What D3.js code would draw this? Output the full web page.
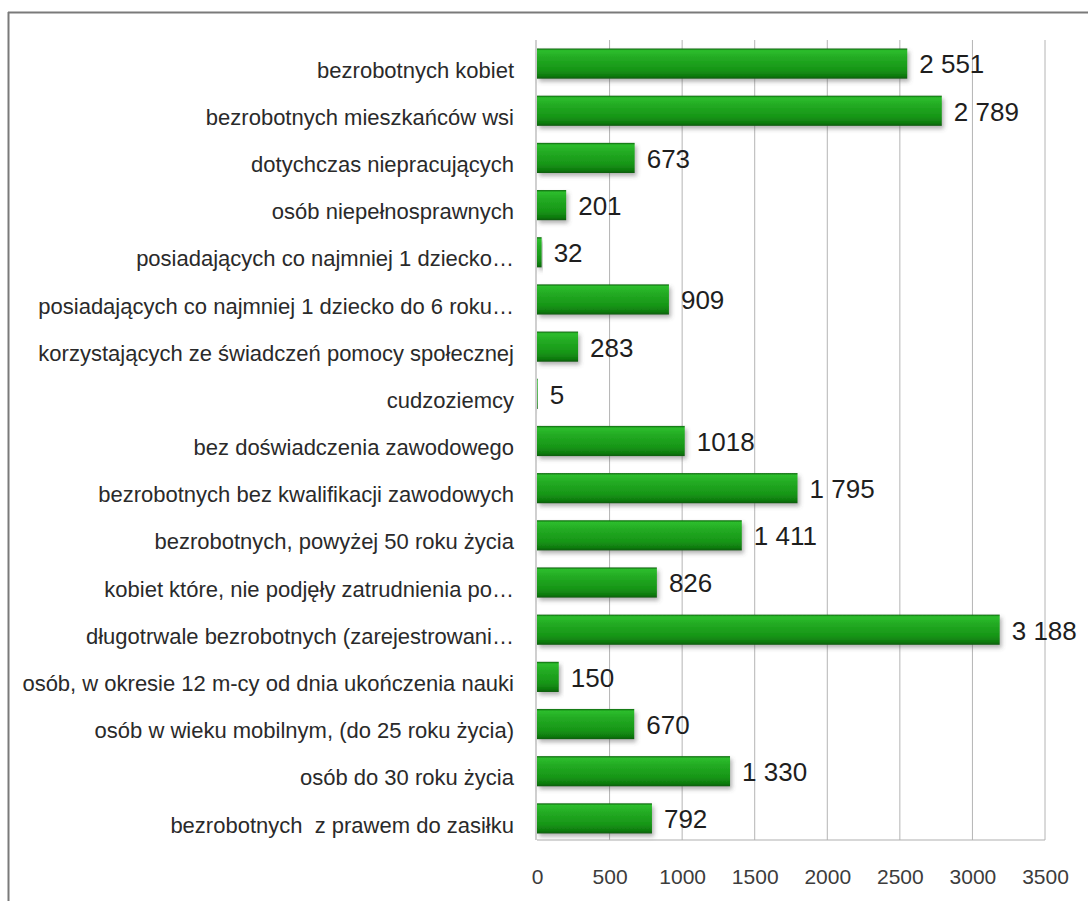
<!DOCTYPE html>
<html>
<head>
<meta charset="utf-8">
<script src="https://cdn.jsdelivr.net/npm/d3@7"></script>
<style>
  html, body { margin: 0; padding: 0; background: #fff; }
  svg { display: block; }
  text { font-family: "Liberation Sans", Arial, sans-serif; white-space: pre; }
</style>
</head>
<body>
<svg id="chart" width="1088" height="901"></svg>
<script>
const categories = [
  "bezrobotnych kobiet",
  "bezrobotnych mieszkańców wsi",
  "dotychczas niepracujących",
  "osób niepełnosprawnych",
  "posiadających co najmniej 1 dziecko…",
  "posiadających co najmniej 1 dziecko do 6 roku…",
  "korzystających ze świadczeń pomocy społecznej",
  "cudzoziemcy",
  "bez doświadczenia zawodowego",
  "bezrobotnych bez kwalifikacji zawodowych",
  "bezrobotnych, powyżej 50 roku życia",
  "kobiet które, nie podjęły zatrudnienia po…",
  "długotrwale bezrobotnych (zarejestrowani…",
  "osób, w okresie 12 m-cy od dnia ukończenia nauki",
  "osób w wieku mobilnym, (do 25 roku życia)",
  "osób do 30 roku życia",
  "bezrobotnych  z prawem do zasiłku"
];
const values = [2551, 2789, 673, 201, 32, 909, 283, 5, 1018, 1795, 1411, 826, 3188, 150, 670, 1330, 792];
const valueLabels = ["2 551", "2 789", "673", "201", "32", "909", "283", "5", "1018", "1 795", "1 411", "826", "3 188", "150", "670", "1 330", "792"];
const xTicks = [0, 500, 1000, 1500, 2000, 2500, 3000, 3500];

const svg = d3.select("#chart");
const W = 1088, H = 901;
const plot = { left: 537, right: 1045, top: 40, bottom: 840 };

// outer frame (top and left edges visible)
svg.append("line").attr("x1", 8).attr("x2", W).attr("y1", 12.5).attr("y2", 12.5)
  .attr("stroke", "#7a7a7a").attr("stroke-width", 2);
svg.append("line").attr("x1", 8.5).attr("x2", 8.5).attr("y1", 12).attr("y2", H)
  .attr("stroke", "#7a7a7a").attr("stroke-width", 2);

const x = d3.scaleLinear().domain([0, 3500]).range([plot.left, plot.right]);
const y = d3.scaleBand().domain(categories).range([plot.top, plot.bottom + 2])
  .paddingInner(0.36).paddingOuter(0.18);

const defs = svg.append("defs");
const grad = defs.append("linearGradient").attr("id", "barGrad")
  .attr("x1", 0).attr("y1", 0).attr("x2", 0).attr("y2", 1);
[[0, "#0b650b"], [0.07, "#2dbd2d"], [0.3, "#23ab23"], [0.7, "#179617"], [0.9, "#0f7c0f"], [1, "#0a5c0a"]]
  .forEach(([o, c]) => grad.append("stop").attr("offset", o).attr("stop-color", c));
const f = defs.append("filter").attr("id", "shadow").attr("x", "-10%").attr("y", "-30%")
  .attr("width", "130%").attr("height", "190%");
f.append("feDropShadow").attr("dx", 2).attr("dy", 3).attr("stdDeviation", 2)
  .attr("flood-color", "#555").attr("flood-opacity", 0.45);

// gridlines
svg.append("g").selectAll("line").data(xTicks.slice(1)).join("line")
  .attr("x1", d => x(d)).attr("x2", d => x(d))
  .attr("y1", plot.top).attr("y2", plot.bottom)
  .attr("stroke", "#b4b4b4").attr("stroke-width", 1);

// axes lines
svg.append("line").attr("x1", plot.left).attr("x2", plot.right)
  .attr("y1", plot.bottom).attr("y2", plot.bottom).attr("stroke", "#b0b0b0").attr("stroke-width", 1.2);
svg.append("line").attr("x1", plot.left - 1).attr("x2", plot.left - 1)
  .attr("y1", plot.top).attr("y2", plot.bottom).attr("stroke", "#b0b0b0").attr("stroke-width", 1.2);

// x axis tick labels
const xAxis = d3.axisBottom(x).tickValues(xTicks).tickSize(0).tickPadding(0).tickFormat(d3.format("d"));
const gx = svg.append("g").attr("transform", `translate(0,${plot.bottom})`).call(xAxis);
gx.select(".domain").remove();
gx.selectAll("text").attr("y", 37).attr("dy", "0.35em")
  .attr("font-size", 21).attr("fill", "#3c3c3c")
  .attr("font-family", "'Liberation Sans', Arial, sans-serif");

// y axis category labels
const yAxis = d3.axisLeft(y).tickSize(0).tickPadding(0);
const gy = svg.append("g").attr("transform", `translate(${plot.left - 23},0)`).call(yAxis);
gy.select(".domain").remove();
gy.selectAll("text").attr("font-size", 22).attr("fill", "#2a2a2a").attr("dy", "0.64em")
  .attr("font-family", "'Liberation Sans', Arial, sans-serif");

// bars
const data = categories.map((c, i) => ({ c, v: values[i], label: valueLabels[i] }));
svg.append("g").selectAll("rect").data(data).join("rect")
  .attr("x", x(0))
  .attr("y", d => y(d.c))
  .attr("width", d => x(d.v) - x(0))
  .attr("height", y.bandwidth())
  .attr("fill", "url(#barGrad)")
  .attr("filter", "url(#shadow)");

// value labels
svg.append("g").selectAll("text").data(data).join("text")
  .attr("x", d => x(d.v) + 12)
  .attr("y", d => y(d.c) + y.bandwidth() / 2)
  .attr("dy", "0.38em")
  .attr("font-size", 26)
  .attr("fill", "#1e1e1e")
  .text(d => d.label);
</script>
</body>
</html>
